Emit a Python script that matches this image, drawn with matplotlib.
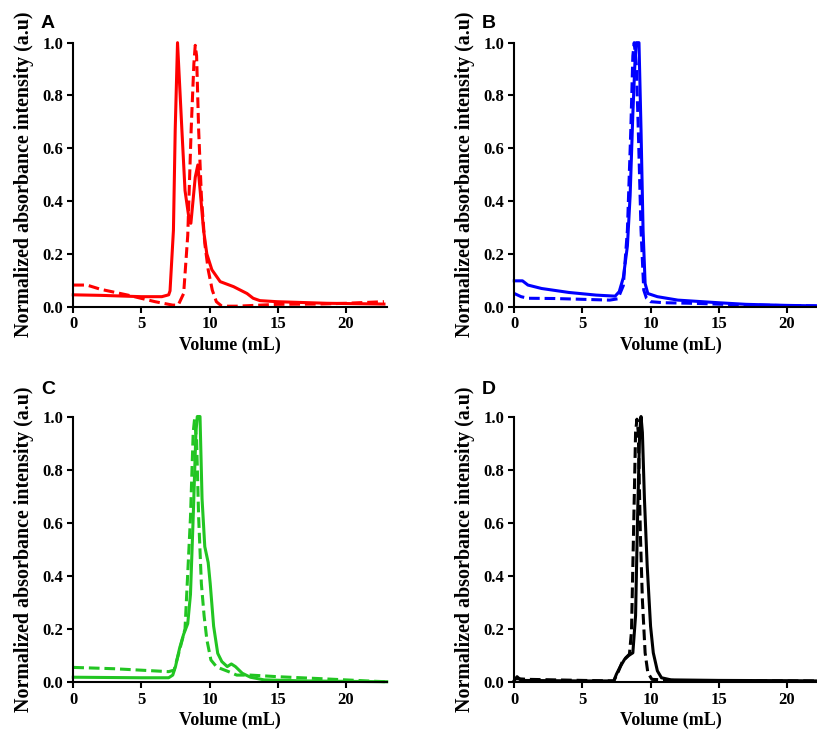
import matplotlib
matplotlib.use("Agg")
import matplotlib.pyplot as plt
import numpy as np

plt.rcParams['font.family'] = ['Liberation Serif', 'DejaVu Serif']
plt.rcParams['font.weight'] = 'bold'

# ---- data (volume mL, normalized intensity) ----
a_solid_x = [0, 2, 5, 6.5, 7.0, 7.1, 7.35, 7.48, 7.65, 7.97, 8.2, 8.53, 8.63, 8.95, 9.14, 9.31, 9.56,
             9.8, 10.17, 10.78, 11.76, 12.75, 13.2, 13.7, 14.95, 18.6, 22.8]
a_solid_y = [0.045, 0.043, 0.038, 0.038, 0.045, 0.06, 0.29, 0.67, 1.0, 0.67, 0.44, 0.32, 0.316, 0.49,
             0.537, 0.44, 0.29, 0.2, 0.14, 0.095, 0.076, 0.05, 0.032, 0.023, 0.019, 0.013, 0.01]
a_dash_x = [0, 1, 2, 4, 6, 7.3, 7.7, 8.1, 8.4, 8.65, 8.85, 8.95, 9.05, 9.2, 9.4, 9.65, 9.9, 10.2,
            10.5, 10.9, 12, 15, 18, 20, 22.8]
a_dash_y = [0.082, 0.082, 0.066, 0.044, 0.019, 0.006, 0.006, 0.05, 0.27, 0.67, 0.92, 0.99, 0.95,
            0.67, 0.42, 0.24, 0.14, 0.063, 0.019, 0.002, 0.002, 0.009, 0.01, 0.013, 0.019]

b_solid_x = [0, 0.6, 1, 2, 4, 6, 7.4, 7.7, 8.0, 8.3, 8.5, 8.7, 8.85, 8.95, 9.15, 9.3, 9.45, 9.6,
             9.8, 10.5, 12, 15, 17, 20, 22.3]
b_solid_y = [0.098, 0.098, 0.082, 0.069, 0.054, 0.044, 0.04, 0.057, 0.11, 0.23, 0.42, 0.73, 0.92,
             1.0, 1.0, 0.67, 0.29, 0.088, 0.05, 0.038, 0.025, 0.015, 0.009, 0.005, 0.003]
b_dash_x = [0, 0.5, 1, 3, 5, 7, 7.6, 8.0, 8.3, 8.55, 8.7, 8.8, 8.95, 9.1, 9.3, 9.5, 9.7, 10, 11,
            13, 16, 20, 22.3]
b_dash_y = [0.05, 0.038, 0.032, 0.031, 0.028, 0.025, 0.03, 0.08, 0.29, 0.67, 0.95, 1.0, 0.92, 0.67,
            0.29, 0.063, 0.032, 0.019, 0.015, 0.013, 0.008, 0.004, 0.003]

c_solid_x = [0, 5, 7.0, 7.3, 7.5, 7.8, 8.1, 8.4, 8.6, 8.8, 9.0, 9.1, 9.3, 9.45, 9.65, 9.9, 10.05,
             10.3, 10.6, 10.9, 11.3, 11.6, 11.9, 12.4, 13, 14, 17, 23]
c_solid_y = [0.018, 0.016, 0.016, 0.026, 0.058, 0.127, 0.18, 0.22, 0.33, 0.62, 0.94, 1.0, 1.0, 0.69,
             0.51, 0.45, 0.37, 0.21, 0.108, 0.077, 0.058, 0.068, 0.058, 0.033, 0.018, 0.008, 0.004, 0.001]
c_dash_x = [0, 3, 7, 7.4, 7.8, 8.2, 8.6, 8.8, 8.9, 9.05, 9.2, 9.4, 9.6, 9.8, 10.1, 10.5, 10.8,
            11.4, 12, 13, 15, 18, 20, 22, 23]
c_dash_y = [0.055, 0.05, 0.039, 0.045, 0.12, 0.2, 0.62, 0.94, 0.99, 0.91, 0.62, 0.37, 0.25, 0.16,
            0.083, 0.058, 0.051, 0.039, 0.026, 0.026, 0.02, 0.013, 0.008, 0.003, 0.001]

d_solid_x = [0, 0.2, 0.5, 5, 7.3, 7.5, 7.8, 8.1, 8.4, 8.7, 8.9, 9.05, 9.2, 9.3, 9.4, 9.55, 9.75,
             10.0, 10.2, 10.5, 10.8, 11.5, 15, 20, 22.3]
d_solid_y = [0.006, 0.02, 0.006, 0.004, 0.004, 0.03, 0.06, 0.086, 0.1, 0.11, 0.25, 0.63, 0.94, 1.0,
             0.94, 0.69, 0.44, 0.21, 0.11, 0.042, 0.016, 0.008, 0.006, 0.005, 0.004]
d_dash_x = [0, 1, 5, 7.3, 7.6, 7.9, 8.2, 8.45, 8.6, 8.75, 8.9, 9.0, 9.1, 9.25, 9.4, 9.6, 9.8,
            10.1, 12, 22.3]
d_dash_y = [0.013, 0.01, 0.006, 0.004, 0.035, 0.073, 0.092, 0.105, 0.19, 0.56, 0.94, 0.99, 0.94,
            0.56, 0.31, 0.11, 0.035, 0.01, 0.005, 0.004]

# label, colour, series, axes rect, panel-letter y (pixels from top)
panels = [
    ('A', 'red', a_solid_x, a_solid_y, a_dash_x, a_dash_y, [0.0897, 0.5810, 0.3836, 0.3607], 24),
    ('B', 'blue', b_solid_x, b_solid_y, b_dash_x, b_dash_y, [0.6295, 0.5810, 0.3836, 0.3607], 24),
    ('C', '#22c522', c_solid_x, c_solid_y, c_dash_x, c_dash_y, [0.0897, 0.0683, 0.3836, 0.3627], 390),
    ('D', 'black', d_solid_x, d_solid_y, d_dash_x, d_dash_y, [0.6295, 0.0683, 0.3836, 0.3627], 390),
]

fig = plt.figure(figsize=(8.17, 7.32), dpi=100)

for label, col, sx, sy, dx, dy, pos, ly in panels:
    ax = fig.add_axes(pos)
    ax.plot(sx, sy, color=col, lw=2.2, clip_on=False, solid_joinstyle='round')
    ax.plot(dx, dy, color=col, lw=2.2, ls=(0, (3.5, 1.6)), clip_on=False)
    ax.set_xlim(0, 23)
    ax.set_ylim(0, 1.0)
    ax.set_xticks([0, 5, 10, 15, 20])
    ax.set_yticks([0, 0.2, 0.4, 0.6, 0.8, 1.0])
    ax.set_yticklabels(['0.0', '0.2', '0.4', '0.6', '0.8', '1.0'])
    for s in ['top', 'right']:
        ax.spines[s].set_visible(False)
    for s in ['left', 'bottom']:
        ax.spines[s].set_linewidth(1.5)
    ax.tick_params(direction='out', length=4, width=1.5, labelsize=12, pad=3)
    for t in ax.get_xticklabels() + ax.get_yticklabels():
        t.set_fontweight('bold')
    ax.set_xlabel('Volume (mL)', fontsize=13, fontweight='bold', labelpad=3)
    ax.set_ylabel('Normalized absorbance intensity (a.u)', fontsize=14.4, fontweight='bold', labelpad=6)
    fig.text(pos[0] - 0.031, 1 - ly / 732, label, fontsize=14, fontweight='bold',
             family=['Liberation Sans', 'DejaVu Sans'], ha='center', va='center')

fig.savefig('out.png', dpi=100)
